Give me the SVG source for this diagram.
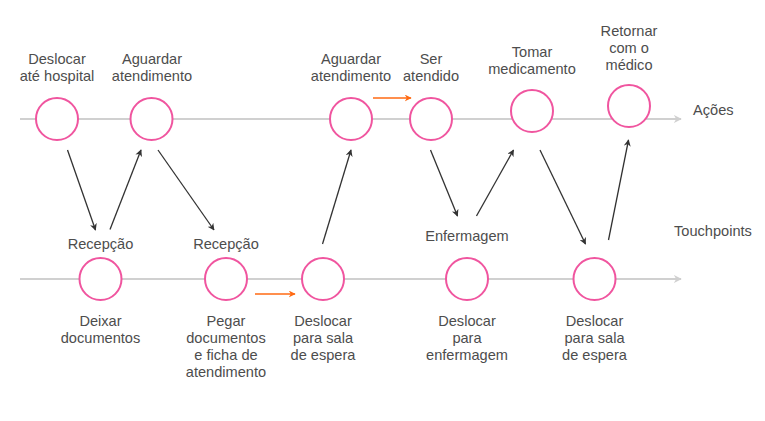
<svg xmlns="http://www.w3.org/2000/svg" width="765" height="421" viewBox="0 0 765 421">
<defs>
<marker id="ah" viewBox="0 0 10 10" refX="9" refY="5" markerWidth="7" markerHeight="7" markerUnits="userSpaceOnUse" orient="auto">
<path d="M0,0 L10,5 L0,10 L3,5 Z" fill="#333"/>
</marker>
<marker id="ao" viewBox="0 0 10 10" refX="9" refY="5" markerWidth="7" markerHeight="7" markerUnits="userSpaceOnUse" orient="auto">
<path d="M0,0 L10,5 L0,10 L3,5 Z" fill="#FF6A13"/>
</marker>
<marker id="ag" viewBox="0 0 10 10" refX="9" refY="5" markerWidth="8" markerHeight="8" markerUnits="userSpaceOnUse" orient="auto">
<path d="M0,0 L10,5 L0,10 L3,5 Z" fill="#d0d0d0"/>
</marker>
</defs>
<style>
text{font-family:"Liberation Sans",Arial,sans-serif;font-size:14.6px;fill:#4d4d4d;text-anchor:middle}
.lbl{text-anchor:start}
.axis{stroke:#d0d0d0;stroke-width:2;fill:none}
.c{fill:#fff;stroke:#F0559F;stroke-width:2}
.dk{stroke:#333;stroke-width:1.3;fill:none;marker-end:url(#ah)}
.or{stroke:#FF6A13;stroke-width:1.5;fill:none;marker-end:url(#ao)}
</style>
<rect width="765" height="421" fill="#fff"/>
<g id="axes">
<line class="axis" x1="20" y1="119" x2="681" y2="119" marker-end="url(#ag)"/>
<line class="axis" x1="20" y1="279" x2="681" y2="279" marker-end="url(#ag)"/>
<text class="lbl" x="693" y="115">Ações</text>
<text class="lbl" x="674" y="236">Touchpoints</text>
</g>
<g id="connectors">
<line class="dk" x1="67.5" y1="150" x2="95.5" y2="230"/>
<line class="dk" x1="110" y1="229.5" x2="141" y2="150"/>
<line class="dk" x1="158" y1="150" x2="214" y2="230"/>
<line class="dk" x1="322.5" y1="244" x2="351" y2="150"/>
<line class="dk" x1="430.5" y1="150" x2="457.5" y2="216"/>
<line class="dk" x1="476.5" y1="216" x2="513.5" y2="150"/>
<line class="dk" x1="540" y1="150" x2="585.5" y2="244"/>
<line class="dk" x1="608.5" y1="240" x2="628.5" y2="140"/>
<line class="or" x1="373" y1="98" x2="411" y2="98"/>
<line class="or" x1="255" y1="294" x2="295" y2="294"/>
</g>
<g id="a1"><circle class="c" cx="57" cy="119" r="21"/><text x="57" y="64">Deslocar</text><text x="57" y="81">até hospital</text></g>
<g id="a2"><circle class="c" cx="151.5" cy="119" r="21"/><text x="152" y="64">Aguardar</text><text x="152" y="81">atendimento</text></g>
<g id="a3"><circle class="c" cx="351" cy="119" r="21"/><text x="351" y="64">Aguardar</text><text x="351" y="81">atendimento</text></g>
<g id="a4"><circle class="c" cx="431" cy="119" r="21"/><text x="431" y="64">Ser</text><text x="431" y="81">atendido</text></g>
<g id="a5"><circle class="c" cx="532" cy="111" r="21"/><text x="532" y="57">Tomar</text><text x="532" y="74">medicamento</text></g>
<g id="a6"><circle class="c" cx="629" cy="106" r="21"/><text x="629" y="36">Retornar</text><text x="629" y="53">com o</text><text x="629" y="70">médico</text></g>
<g id="t1"><circle class="c" cx="100.5" cy="279" r="21"/><text x="100.5" y="249">Recepção</text><text x="100.5" y="326">Deixar</text><text x="100.5" y="343">documentos</text></g>
<g id="t2"><circle class="c" cx="226" cy="279" r="21"/><text x="226" y="249">Recepção</text><text x="226" y="326">Pegar</text><text x="226" y="343">documentos</text><text x="226" y="360">e ficha de</text><text x="226" y="377">atendimento</text></g>
<g id="t3"><circle class="c" cx="323" cy="279" r="21"/><text x="323" y="326">Deslocar</text><text x="323" y="343">para sala</text><text x="323" y="360">de espera</text></g>
<g id="t4"><circle class="c" cx="467" cy="279" r="21"/><text x="467" y="241">Enfermagem</text><text x="467" y="326">Deslocar</text><text x="467" y="343">para</text><text x="467" y="360">enfermagem</text></g>
<g id="t5"><circle class="c" cx="594.5" cy="279" r="21"/><text x="594.5" y="326">Deslocar</text><text x="594.5" y="343">para sala</text><text x="594.5" y="360">de espera</text></g>
</svg>
